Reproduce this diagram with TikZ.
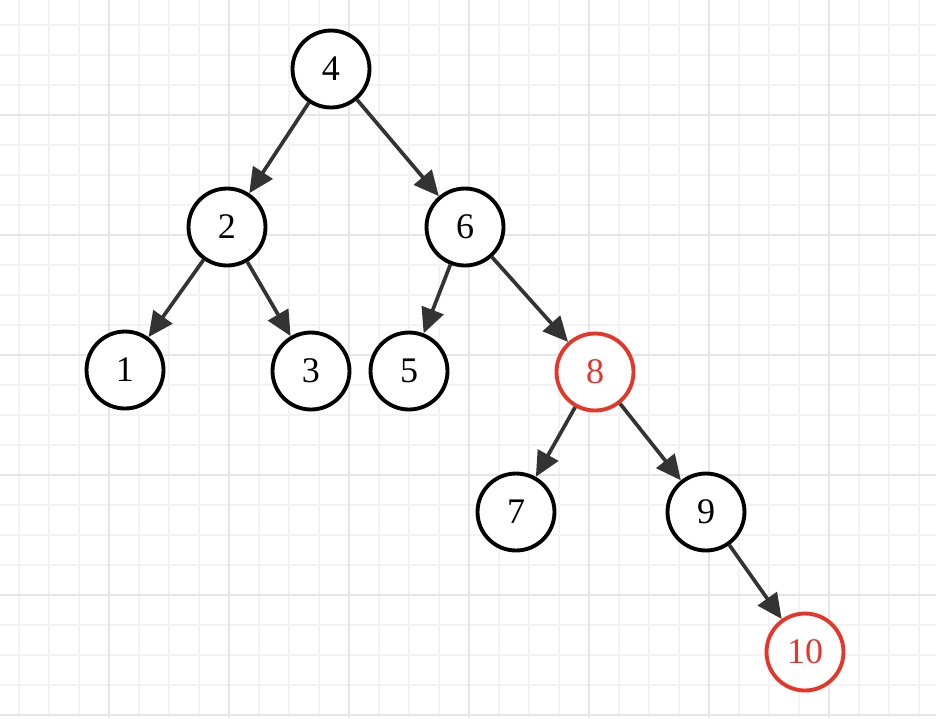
\documentclass[tikz,border=0pt]{standalone}
\usepackage{fontspec}
\setmainfont{Liberation Serif}
\usetikzlibrary{arrows.meta}
\definecolor{gridminor}{HTML}{F3F3F3}
\definecolor{gridmajor}{HTML}{E6E6E6}
\definecolor{edgegray}{HTML}{333333}
\definecolor{newred}{HTML}{E8352A}
\begin{document}
\begin{tikzpicture}[x=0.02cm,y=-0.02cm,
    key/.style={circle,draw=black,line width=2.2pt,minimum size=1.54cm,inner sep=0pt,
      font=\fontsize{20.5}{24}\selectfont,fill=white},
    newkey/.style={key,draw=newred,text=newred},
    edge/.style={draw=edgegray,line width=2.1pt,-{Triangle[length=0.5cm,width=0.46cm]}}]
  \useasboundingbox (0,0) rectangle (936,718);
  % Raster
  \foreach \x in {19,49,...,919}
    \draw[gridminor,line width=0.9pt] (\x,0) -- (\x,718);
  \foreach \y in {25,55,...,715}
    \draw[gridminor,line width=0.9pt] (0,\y) -- (936,\y);
  \foreach \x in {109,229,...,829}
    \draw[gridmajor,line width=0.9pt] (\x,0) -- (\x,718);
  \foreach \y in {115,235,...,715}
    \draw[gridmajor,line width=0.9pt] (0,\y) -- (936,\y);
  % Knoten
  \node[key] (n4) at (331,69) {4};
  \node[key] (n2) at (227,227) {2};
  \node[key] (n6) at (465,227) {6};
  \node[key] (n1) at (125,370) {1};
  \node[key] (n3) at (311,371) {3};
  \node[key] (n5) at (409,371) {5};
  \node[newkey] (n8) at (595,372) {8};
  \node[key] (n7) at (516,512) {7};
  \node[key] (n9) at (706,512) {9};
  \node[newkey] (n10) at (805,652) {10};
  % Kanten
  \draw[edge] (n4) -- (n2);
  \draw[edge] (n4) -- (n6);
  \draw[edge] (n2) -- (n1);
  \draw[edge] (n2) -- (n3);
  \draw[edge] (n6) -- (n5);
  \draw[edge] (n6) -- (n8);
  \draw[edge] (n8) -- (n7);
  \draw[edge] (n8) -- (n9);
  \draw[edge] (n9) -- (n10);
\end{tikzpicture}
\end{document}
